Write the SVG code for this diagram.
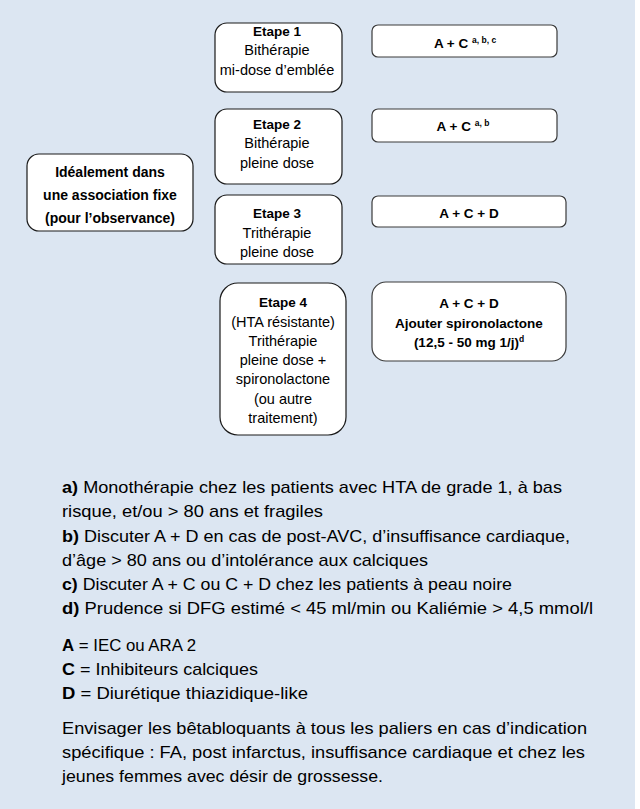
<svg xmlns="http://www.w3.org/2000/svg" width="640" height="809" viewBox="0 0 640 809">
<style>
.bg{fill:#dce6f2}
.box{fill:#ffffff;stroke:#1a1a1a;stroke-width:1.2}
.rbox{fill:#ffffff;stroke:#3a3a3a;stroke-width:1.2}
text{font-family:"Liberation Sans",Arial,sans-serif;fill:#000}
.t{font-size:14.5px;text-anchor:middle}
.b{font-size:13.5px;font-weight:bold;text-anchor:middle}
.bl{font-size:14px;font-weight:bold;text-anchor:middle}
.sup{font-size:8.5px;font-weight:bold}
.p{font-size:17px}
.pb{font-weight:bold}
</style>
<rect x="0" y="0" width="640" height="809" fill="#ffffff"/>
<rect class="bg" x="0" y="0" width="635" height="809"/>
<g id="connectors"/>
<g id="etape1">
<rect class="box" x="215" y="23" width="127" height="69" rx="12"/>
<text class="b" x="277" y="36">Etape 1</text>
<text class="t" x="277" y="55">Bithérapie</text>
<text class="t" x="277" y="75">mi-dose d’emblée</text>
</g>
<g id="res1">
<rect class="rbox" x="372" y="25" width="185" height="32" rx="6"/>
<text class="b" x="465" y="48">A + C <tspan class="sup" dy="-5">a, b, c</tspan></text>
</g>
<g id="etape2">
<rect class="box" x="215" y="109" width="127" height="75" rx="12"/>
<text class="b" x="277" y="129">Etape 2</text>
<text class="t" x="277" y="148">Bithérapie</text>
<text class="t" x="277" y="168">pleine dose</text>
</g>
<g id="res2">
<rect class="rbox" x="372" y="109" width="185" height="33" rx="6"/>
<text class="b" x="463" y="131">A + C <tspan class="sup" dy="-5">a, b</tspan></text>
</g>
<g id="ideal">
<rect class="box" x="27" y="154" width="166" height="77" rx="12"/>
<text class="bl" x="110" y="177">Idéalement dans</text>
<text class="bl" x="110" y="200">une association fixe</text>
<text class="bl" x="110" y="223">(pour l’observance)</text>
</g>
<g id="etape3">
<rect class="box" x="215" y="195" width="127" height="69" rx="12"/>
<text class="b" x="277" y="218">Etape 3</text>
<text class="t" x="277" y="238">Trithérapie</text>
<text class="t" x="277" y="257">pleine dose</text>
</g>
<g id="res3">
<rect class="rbox" x="372" y="196" width="194" height="31" rx="6"/>
<text class="b" x="469" y="218">A + C + D</text>
</g>
<g id="etape4">
<rect class="box" x="220" y="283" width="126" height="152" rx="18"/>
<text class="b" x="283" y="307">Etape 4</text>
<text class="t" x="283" y="327">(HTA résistante)</text>
<text class="t" x="283" y="346">Trithérapie</text>
<text class="t" x="283" y="365">pleine dose +</text>
<text class="t" x="283" y="384">spironolactone</text>
<text class="t" x="283" y="404">(ou autre</text>
<text class="t" x="283" y="423">traitement)</text>
</g>
<g id="res4">
<rect class="rbox" x="372" y="282" width="194" height="79" rx="14"/>
<text class="b" x="469" y="308">A + C + D</text>
<text class="b" x="469" y="328">Ajouter spironolactone</text>
<text class="b" x="469" y="347">(12,5 - 50 mg 1/j)<tspan class="sup" dy="-5">d</tspan></text>
</g>
<g id="notes">
<text class="p" x="62" y="493" textLength="500" lengthAdjust="spacingAndGlyphs"><tspan class="pb">a)</tspan> Monothérapie chez les patients avec HTA de grade 1, à bas</text>
<text class="p" x="62" y="517" textLength="261" lengthAdjust="spacingAndGlyphs">risque, et/ou &gt; 80 ans et fragiles</text>
<text class="p" x="62" y="542" textLength="508" lengthAdjust="spacingAndGlyphs"><tspan class="pb">b)</tspan> Discuter A + D en cas de post-AVC, d’insuffisance cardiaque,</text>
<text class="p" x="62" y="566" textLength="366" lengthAdjust="spacingAndGlyphs">d’âge &gt; 80 ans ou d’intolérance aux calciques</text>
<text class="p" x="62" y="590" textLength="450" lengthAdjust="spacingAndGlyphs"><tspan class="pb">c)</tspan> Discuter A + C ou C + D chez les patients à peau noire</text>
<text class="p" x="62" y="614" textLength="531" lengthAdjust="spacingAndGlyphs"><tspan class="pb">d)</tspan> Prudence si DFG estimé &lt; 45 ml/min ou Kaliémie &gt; 4,5 mmol/l</text>
<text class="p" x="62" y="651" textLength="134" lengthAdjust="spacingAndGlyphs"><tspan class="pb">A</tspan> = IEC ou ARA 2</text>
<text class="p" x="62" y="675" textLength="196" lengthAdjust="spacingAndGlyphs"><tspan class="pb">C</tspan> = Inhibiteurs calciques</text>
<text class="p" x="62" y="699" textLength="246" lengthAdjust="spacingAndGlyphs"><tspan class="pb">D</tspan> = Diurétique thiazidique-like</text>
<text class="p" x="62" y="734" textLength="525" lengthAdjust="spacingAndGlyphs">Envisager les bêtabloquants à tous les paliers en cas d’indication</text>
<text class="p" x="62" y="758" textLength="523" lengthAdjust="spacingAndGlyphs">spécifique : FA, post infarctus, insuffisance cardiaque et chez les</text>
<text class="p" x="62" y="782" textLength="321" lengthAdjust="spacingAndGlyphs">jeunes femmes avec désir de grossesse.</text>
</g>
</svg>
